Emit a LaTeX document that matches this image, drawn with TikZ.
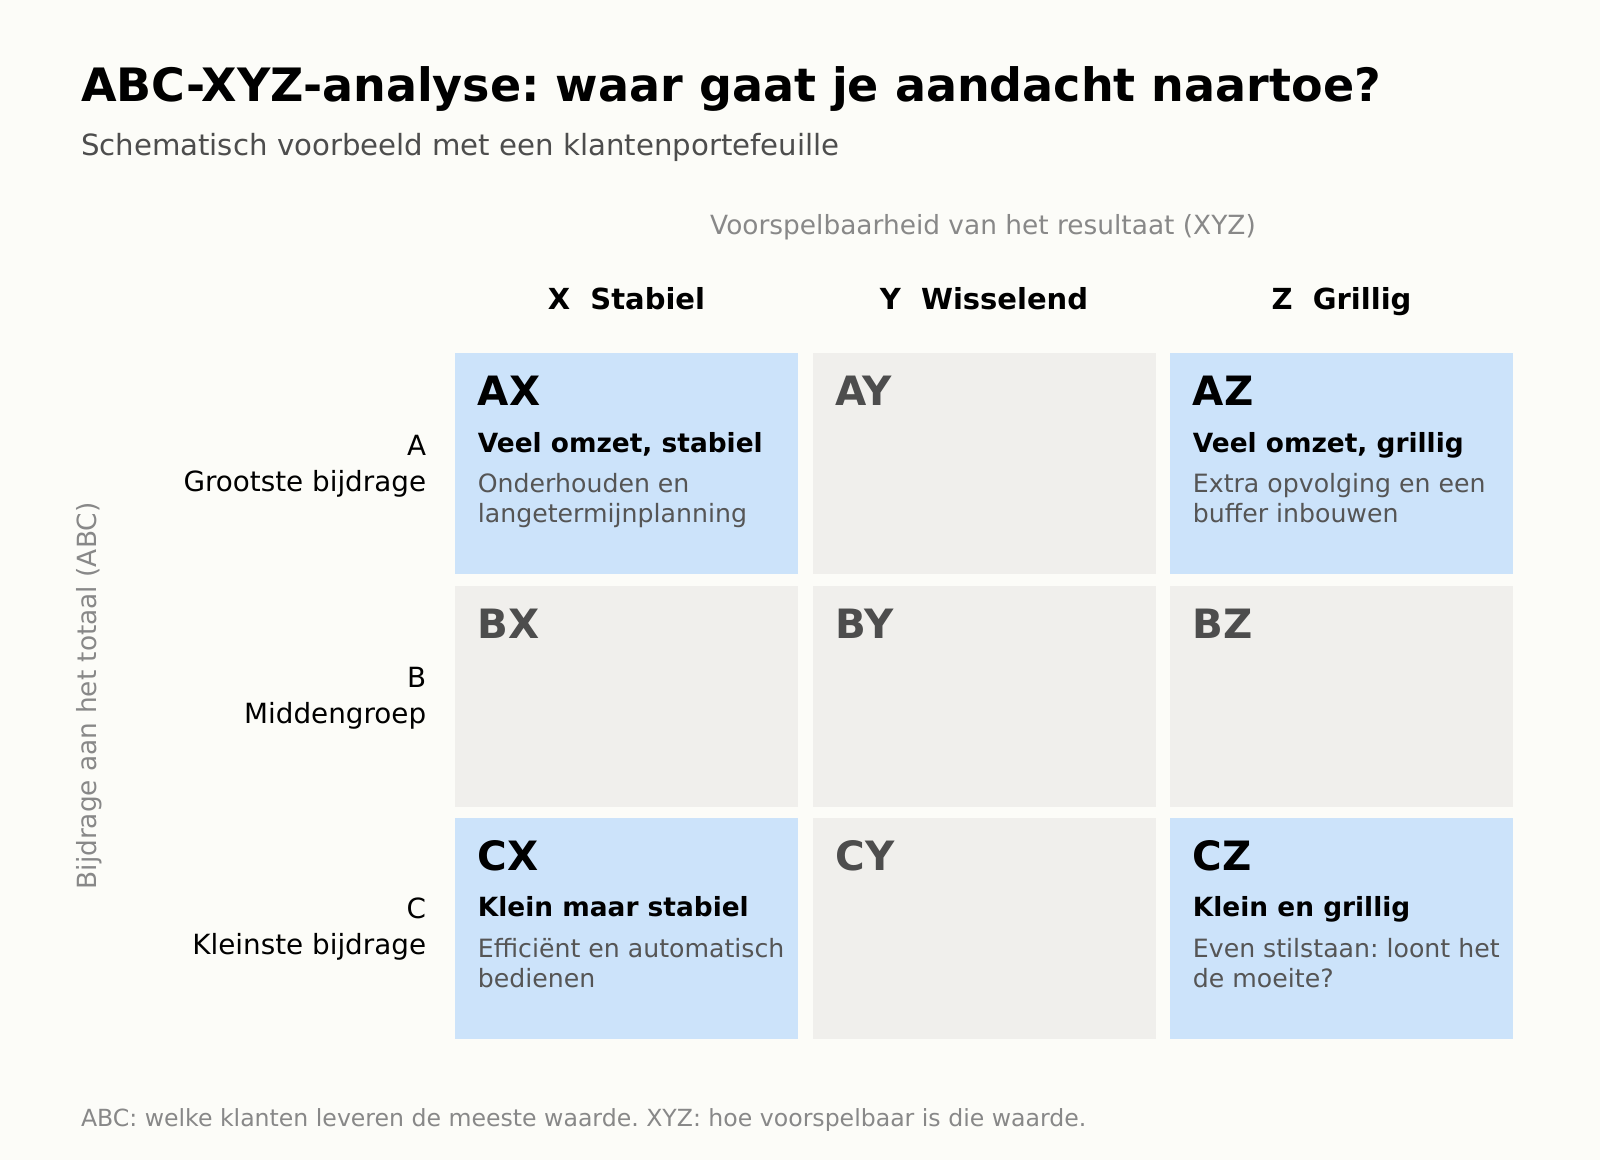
\documentclass[tikz,border=0pt]{standalone}
\usepackage{fontspec}
\setmainfont{DejaVu Sans}
\usetikzlibrary{positioning}
\definecolor{bgpaper}{RGB}{252,252,248}
\definecolor{cellblue}{RGB}{204,227,250}
\definecolor{cellgrey}{RGB}{240,239,236}
\definecolor{txtgrey}{RGB}{136,136,136}
\definecolor{txtdark}{RGB}{77,77,77}
\definecolor{txtdesc}{RGB}{85,85,85}
\frenchspacing
\tikzset{
	cellbox/.style={anchor=north west, inner sep=0pt, minimum width=171.5pt, minimum height=110.5pt},
	codelbl/.style={anchor=base west, inner sep=0pt, font=\fontsize{20.2}{24}\selectfont\bfseries},
	celltitle/.style={anchor=base west, inner sep=0pt, font=\fontsize{13.2}{16}\selectfont\bfseries},
	celldesc/.style={anchor=base west, inner sep=0pt, align=left, text=txtdesc, font=\fontsize{12.6}{14.8}\selectfont},
	colhead/.style={anchor=base, inner sep=0pt, font=\fontsize{14.5}{17}\selectfont\bfseries},
	rowlbl/.style={anchor=base east, inner sep=0pt, font=\fontsize{13.9}{17}\selectfont},
	axislbl/.style={inner sep=0pt, text=txtgrey, font=\fontsize{13.2}{16}\selectfont}
}
\begin{document}
\begin{tikzpicture}[x=0.5pt, y=-0.5pt]
	\useasboundingbox[fill=bgpaper] (0,0) rectangle (1600,1160);
	% titel
	\node[anchor=base west, inner sep=0pt, font=\fontsize{23}{28}\selectfont\bfseries] (title) at (80.6,102) {ABC-XYZ-analyse: waar gaat je aandacht naartoe?};
	\node[anchor=base west, inner sep=0pt, text=txtdark, font=\fontsize{14.6}{18}\selectfont] (subtitle) at (80.6,156) {Schematisch voorbeeld met een klantenportefeuille};
	% assen
	\node[axislbl, anchor=base] (xaxis) at (983,235) {Voorspelbaarheid van het resultaat (XYZ)};
	\node[axislbl, rotate=90] (yaxis) at (89,696) {Bijdrage aan het totaal (ABC)};
	\foreach \n/\x/\t in {X/626.5/Stabiel, Y/984/Wisselend, Z/1341.5/Grillig}
		\node[colhead] (head\n) at (\x,310) {\n~~\t};
	\foreach \n/\y/\t in {A/455/Grootste bijdrage, B/687/Middengroep, C/918/Kleinste bijdrage}{
		\node[rowlbl] (row\n) at (426.5,\y) {\n};
		\node[rowlbl] (rowname\n) at (426.5,\y+36) {\t};
	}
	% cellen
	\foreach \n/\x/\y/\c/\k in {AX/455/353/cellblue/black, AY/812.5/353/cellgrey/txtdark, AZ/1170/353/cellblue/black,
		BX/455/585.5/cellgrey/txtdark, BY/812.5/585.5/cellgrey/txtdark, BZ/1170/585.5/cellgrey/txtdark,
		CX/455/817.5/cellblue/black, CY/812.5/817.5/cellgrey/txtdark, CZ/1170/817.5/cellblue/black}{
		\node[cellbox, fill=\c] (\n) at (\x,\y) {};
		\node[codelbl, text=\k] (code\n) at ([shift={(22.5,53)}]\n.north west) {\n};
	}
	\foreach \n/\t/\d in {AX/{Veel omzet, stabiel}/{Onderhouden en\\langetermijnplanning},
		AZ/{Veel omzet, grillig}/{Extra opvolging en een\\buffer inbouwen},
		CX/{Klein maar stabiel}/{Efficiënt en automatisch\\bedienen},
		CZ/{Klein en grillig}/{Even stilstaan: loont het\\de moeite?}}{
		\node[celltitle] (title\n) at ([shift={(22.5,99)}]\n.north west) {\t};
		\node[celldesc] (desc\n) at ([shift={(22.5,169.5)}]\n.north west) {\d};
	}
	% voetnoot
	\node[anchor=base west, inner sep=0pt, text=txtgrey, font=\fontsize{11.8}{15}\selectfont] (note) at (80.6,1126.5) {ABC: welke klanten leveren de meeste waarde. XYZ: hoe voorspelbaar is die waarde.};
\end{tikzpicture}
\end{document}
